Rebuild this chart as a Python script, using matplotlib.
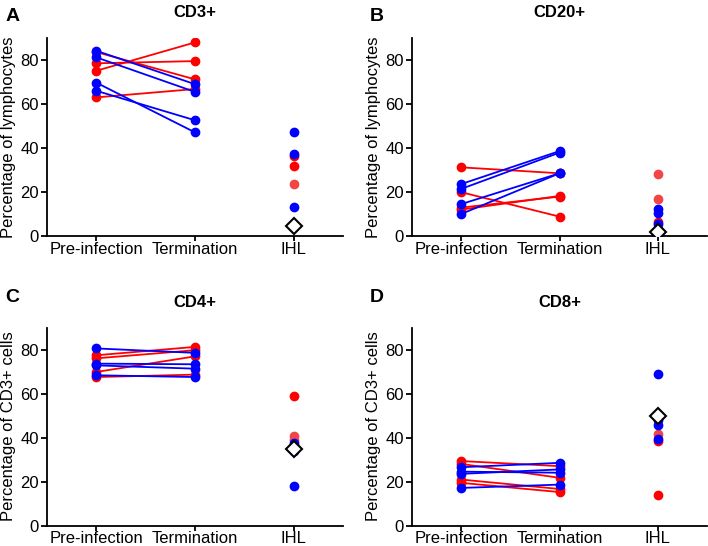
import matplotlib
matplotlib.use('Agg')
import matplotlib.pyplot as plt

plt.rcParams['font.family'] = ['Liberation Sans', 'DejaVu Sans']

categories = ['Pre-infection', 'Termination', 'IHL']

# paired values per animal: pre-infection, termination, group colour
cd3_pre = [84.2, 81.2, 69.7, 66.0, 75.1, 78.5, 83.6, 63.0]
cd3_term = [69.0, 65.5, 47.1, 52.6, 88.0, 79.5, 71.2, 66.8]
cd3_group = ['b', 'b', 'b', 'b', 'r', 'r', 'r', 'r']
cd3_ihl = [36.4, 31.8, 23.5, 47.4, 37.3, 13.0, 5.0]
cd3_ihl_group = ['r', 'r', 'l', 'b', 'b', 'b', 'b']
cd3_ref = 4.5

cd20_pre = [23.6, 21.4, 14.5, 10.0, 31.2, 19.9, 12.9, 12.0]
cd20_term = [38.6, 37.9, 28.5, 28.5, 28.5, 8.8, 17.9, 18.2]
cd20_group = ['b', 'b', 'b', 'b', 'r', 'r', 'r', 'r']
cd20_ihl = [28.2, 16.8, 6.2, 12.3, 10.6, 5.5, 2.5]
cd20_ihl_group = ['l', 'l', 'r', 'b', 'b', 'b', 'b']
cd20_ref = 1.7

cd4_pre = [80.5, 73.6, 72.8, 68.3, 77.4, 76.0, 69.8, 67.5]
cd4_term = [78.5, 73.3, 71.3, 67.5, 81.2, 79.7, 76.9, 68.6]
cd4_group = ['b', 'b', 'b', 'b', 'r', 'r', 'r', 'r']
cd4_ihl = [58.7, 40.8, 39.0, 37.5, 35.1, 34.0, 18.0]
cd4_ihl_group = ['r', 'l', 'l', 'b', 'b', 'b', 'b']
cd4_ref = 34.7

cd8_pre = [26.5, 23.5, 24.5, 17.1, 29.3, 28.0, 20.9, 19.4]
cd8_term = [28.5, 25.5, 24.0, 18.6, 27.0, 21.7, 16.6, 15.2]
cd8_group = ['b', 'b', 'b', 'b', 'r', 'r', 'r', 'r']
cd8_ihl = [41.8, 38.2, 14.0, 69.0, 48.1, 45.8, 39.5]
cd8_ihl_group = ['l', 'r', 'r', 'b', 'b', 'b', 'b']
cd8_ref = 49.6

colors = {'b': '#0000ff', 'r': '#ff0000', 'l': '#f24545'}

panels = [
    ('A', 'CD3+', 'Percentage of lymphocytes', cd3_pre, cd3_term, cd3_group, cd3_ihl, cd3_ihl_group, cd3_ref),
    ('B', 'CD20+', 'Percentage of lymphocytes', cd20_pre, cd20_term, cd20_group, cd20_ihl, cd20_ihl_group, cd20_ref),
    ('C', 'CD4+', 'Percentage of CD3+ cells', cd4_pre, cd4_term, cd4_group, cd4_ihl, cd4_ihl_group, cd4_ref),
    ('D', 'CD8+', 'Percentage of CD3+ cells', cd8_pre, cd8_term, cd8_group, cd8_ihl, cd8_ihl_group, cd8_ref),
]

fig = plt.figure(figsize=(7.08, 5.46), dpi=100)
positions = [
    [0.0664, 0.5678, 0.418, 0.3626],
    [0.582, 0.5678, 0.4167, 0.3626],
    [0.0664, 0.0375, 0.418, 0.3626],
    [0.582, 0.0375, 0.4167, 0.3626],
]
letter_pos = [(0.008, 0.985), (0.522, 0.985), (0.008, 0.47), (0.522, 0.47)]

for i, (letter, title, ylab, pre, term, grp, ihl, ihl_grp, ref) in enumerate(panels):
    ax = fig.add_axes(positions[i])
    # red first, blue on top
    for g in ['r', 'b']:
        for p, t, gg in zip(pre, term, grp):
            if gg == g:
                ax.plot([0, 1], [p, t], '-o', color=colors[g], lw=1.3, ms=6, zorder=3)
    for g in ['l', 'r', 'b']:
        for v, gg in zip(ihl, ihl_grp):
            if gg == g:
                ax.plot(2, v, 'o', color=colors[g], ms=6, zorder=3)
    ax.plot(2, ref, 'D', mfc='white', mec='black', mew=1.5, ms=8, zorder=4)

    ax.set_xlim(-0.5, 2.5)
    ax.set_ylim(0, 90)
    ax.set_yticks([0, 20, 40, 60, 80])
    ax.set_xticks([0, 1, 2])
    ax.set_xticklabels(categories)
    ax.spines['top'].set_visible(False)
    ax.spines['right'].set_visible(False)
    ax.spines['left'].set_linewidth(1.3)
    ax.spines['bottom'].set_linewidth(1.3)
    ax.tick_params(axis='x', labelsize=12, width=1.3, length=3.5, pad=0.5)
    ax.tick_params(axis='y', labelsize=12, width=1.3, length=4.5, pad=1.5)
    ax.set_ylabel(ylab, fontsize=12, labelpad=3)
    ax.set_title(title, fontsize=12, fontweight='bold', pad=15)
    fig.text(letter_pos[i][0], letter_pos[i][1], letter, fontsize=14,
             fontweight='bold', va='top', ha='left')

fig.savefig('out.png', dpi=100)
